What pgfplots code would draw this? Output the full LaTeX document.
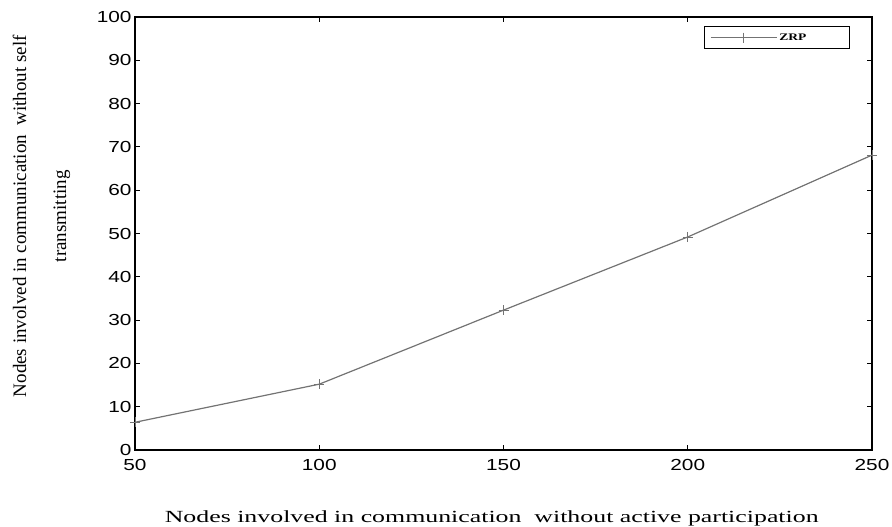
\documentclass[border=0pt]{standalone}
\usepackage{fontspec}
\setmainfont{Liberation Serif}
\newfontfamily\sansnum{Liberation Sans}
\usepackage{graphicx}
\usepackage{pgfplots}
\pgfplotsset{compat=1.18}
\begin{document}
\begin{tikzpicture}
\begin{axis}[
  scale only axis,
  width=737pt, height=433pt,
  xmin=50, xmax=250, ymin=0, ymax=100,
  xtick={50,100,150,200,250},
  ytick={0,10,...,100},
  tick align=inside,
  major tick length=5pt,
  axis line style={line width=1.2pt},
  tick style={line width=0.8pt, black},
  xticklabel={\scalebox{1.3}[1]{\sansnum\pgfmathprintnumber[assume math mode=true]{\tick}}},
  yticklabel={\scalebox{1.3}[1]{\sansnum\pgfmathprintnumber[assume math mode=true]{\tick}}},
  xticklabel style={font=\fontsize{16}{16}\selectfont, yshift=-6pt},
  yticklabel style={font=\fontsize{16}{16}\selectfont},
  xlabel={\scalebox{1.52}[1]{Nodes involved in communication\ \ without active participation}},
  xlabel style={font=\fontsize{17}{17}\selectfont, at={(axis description cs:0.484,-0.157)}, anchor=center},
  ylabel={Nodes involved in communication\ \ without self\\[21pt]transmitting},
  ylabel style={font=\fontsize{19}{19}\selectfont, align=center, at={(axis description cs:-0.127,0.54)}, anchor=center},
  legend style={at={(0.97,0.979)}, anchor=north east, draw=black, line width=0.8pt,
    font=\fontsize{10}{10}\selectfont\bfseries, inner ysep=5pt, inner xsep=6pt,
    legend cell align=left, text width=62pt},
  legend image code/.code={\draw[mark repeat=2, mark phase=2, #1] plot coordinates {(0pt,0pt) (33pt,0pt) (66pt,0pt)};},
]
\addplot[color=black!55, line width=1.2pt, mark=+, mark size=5pt, mark options={line width=0.8pt}]
  coordinates {(50,6.4) (100,15.2) (150,32.3) (200,49.2) (250,68.1)};
\addlegendentry{\scalebox{1.35}[1]{ZRP}}
\end{axis}
\pgfresetboundingbox
\path (-135pt,-77pt) rectangle (757pt,450pt);
\end{tikzpicture}
\end{document}
